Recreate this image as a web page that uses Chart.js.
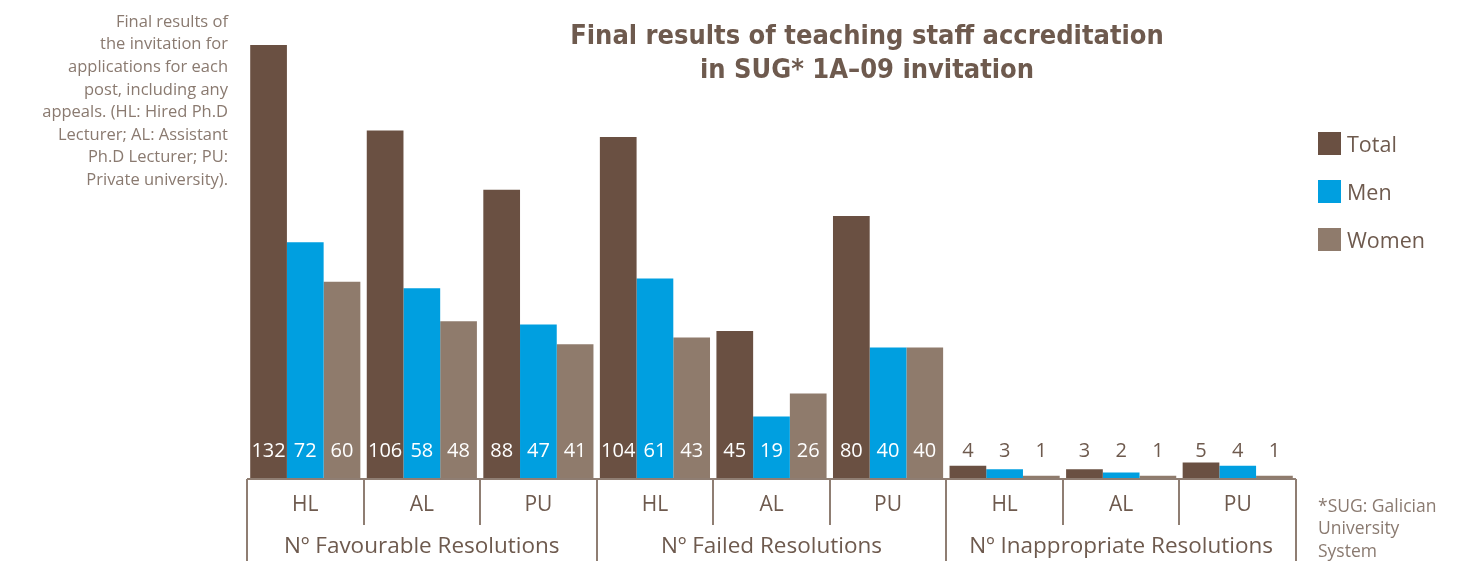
<!DOCTYPE html>
<html>
<head>
<meta charset="utf-8">
<script src="https://cdn.jsdelivr.net/npm/chart.js@4/dist/chart.umd.min.js"></script>
<style>
  html, body { margin: 0; padding: 0; background: #fff; }
  #wrap { width: 1465px; height: 561px; position: relative; }
</style>
</head>
<body>
<div id="wrap"><canvas id="chart"></canvas></div>
<script>
// chart data
const groups = ['Nº Favourable Resolutions', 'Nº Failed Resolutions', 'Nº Inappropriate Resolutions'];
const labels = ['HL', 'AL', 'PU', 'HL', 'AL', 'PU', 'HL', 'AL', 'PU'];
const totalValues = [132, 106, 88, 104, 45, 80, 4, 3, 5];
const menValues = [72, 58, 47, 61, 19, 40, 3, 2, 4];
const womenValues = [60, 48, 41, 43, 26, 40, 1, 1, 1];
const seriesNames = ['Total', 'Men', 'Women'];
const titleLines = ['Final results of teaching staff accreditation', 'in SUG* 1A\u201309 invitation'];
const noteLines = ['Final results of', 'the invitation for', 'applications for each', 'post, including any',
    'appeals. (HL: Hired Ph.D', 'Lecturer; AL: Assistant', 'Ph.D Lecturer; PU:', 'Private university).'];
const footLines = ['*SUG: Galician', 'University', 'System'];

const colors = ['#6a5042', '#009fe0', '#8f7b6c'];
const textBrown = '#6e5a4e';
const lineColor = '#8f7e73';
const bodyFont = '"Open Sans", sans-serif';

const overlay = {
    id: 'overlay',
    afterDatasetsDraw(chart) {
        const ctx = chart.ctx;
        const x = chart.scales.x;
        const y = chart.scales.y;
        const area = chart.chartArea;
        const base = y.getPixelForValue(0);
        const step = (area.right - area.left) / labels.length;

        ctx.save();
        // value labels, white inside tall bars, brown above the small ones
        ctx.font = '20px ' + bodyFont;
        ctx.textAlign = 'center';
        ctx.textBaseline = 'middle';
        const labelY = base - 28;
        chart.data.datasets.forEach((ds, di) => {
            const meta = chart.getDatasetMeta(di);
            meta.data.forEach((bar, i) => {
                const inside = bar.y < labelY - 14;
                ctx.fillStyle = inside ? '#ffffff' : textBrown;
                ctx.fillText(String(ds.data[i]), bar.x, labelY);
            });
        });

        // axis box lines
        ctx.strokeStyle = lineColor;
        ctx.lineWidth = 2;
        ctx.beginPath();
        ctx.moveTo(area.left, base);
        ctx.lineTo(area.right, base);
        for (let i = 0; i <= labels.length; i++) {
            const px = Math.round(area.left + step * i);
            ctx.moveTo(px, base);
            ctx.lineTo(px, i % 3 === 0 ? chart.height : base + 46);
        }
        ctx.stroke();

        // category + group labels
        ctx.fillStyle = textBrown;
        ctx.font = '21px ' + bodyFont;
        labels.forEach((l, i) => {
            ctx.fillText(l, x.getPixelForValue(i), base + 26);
        });
        ctx.font = '22.5px ' + bodyFont;
        groups.forEach((g, i) => {
            ctx.fillText(g, x.getPixelForValue(i * 3 + 1), base + 68);
        });

        // title
        ctx.font = 'bold 27px "DejaVu Sans Condensed", "DejaVu Sans", sans-serif';
        ctx.fillText(titleLines[0], 867, 37);
        ctx.fillText(titleLines[1], 867, 71);

        // legend
        ctx.textAlign = 'left';
        ctx.font = '21.5px ' + bodyFont;
        seriesNames.forEach((s, i) => {
            const ly = 132 + i * 48;
            ctx.fillStyle = colors[i];
            ctx.fillRect(1318, ly, 23, 23);
            ctx.fillStyle = textBrown;
            ctx.fillText(s, 1347, ly + 14);
        });

        // side note
        ctx.textAlign = 'right';
        ctx.fillStyle = '#8a7a70';
        ctx.font = '16.5px ' + bodyFont;
        noteLines.forEach((t, i) => ctx.fillText(t, 228, 22 + i * 22.6));

        // footnote
        ctx.textAlign = 'left';
        ctx.font = '17.5px ' + bodyFont;
        footLines.forEach((t, i) => ctx.fillText(t, 1318, 507 + i * 22.5));
        ctx.restore();
    }
};

new Chart(document.getElementById('chart'), {
    type: 'bar',
    data: {
        labels: labels,
        datasets: [
            { label: seriesNames[0], data: totalValues, backgroundColor: colors[0] },
            { label: seriesNames[1], data: menValues, backgroundColor: colors[1] },
            { label: seriesNames[2], data: womenValues, backgroundColor: colors[2] }
        ]
    },
    options: {
        responsive: true,
        maintainAspectRatio: false,
        animation: false,
        layout: { padding: { left: 247, right: 169, top: 45, bottom: 82 } },
        datasets: { bar: { categoryPercentage: 0.945, barPercentage: 1.0, borderWidth: 0 } },
        plugins: { legend: { display: false }, title: { display: false }, tooltip: { enabled: false } },
        scales: {
            x: { display: false, offset: true },
            y: { display: false, min: 0, max: 132 }
        }
    },
    plugins: [overlay]
});
</script>
</body>
</html>
